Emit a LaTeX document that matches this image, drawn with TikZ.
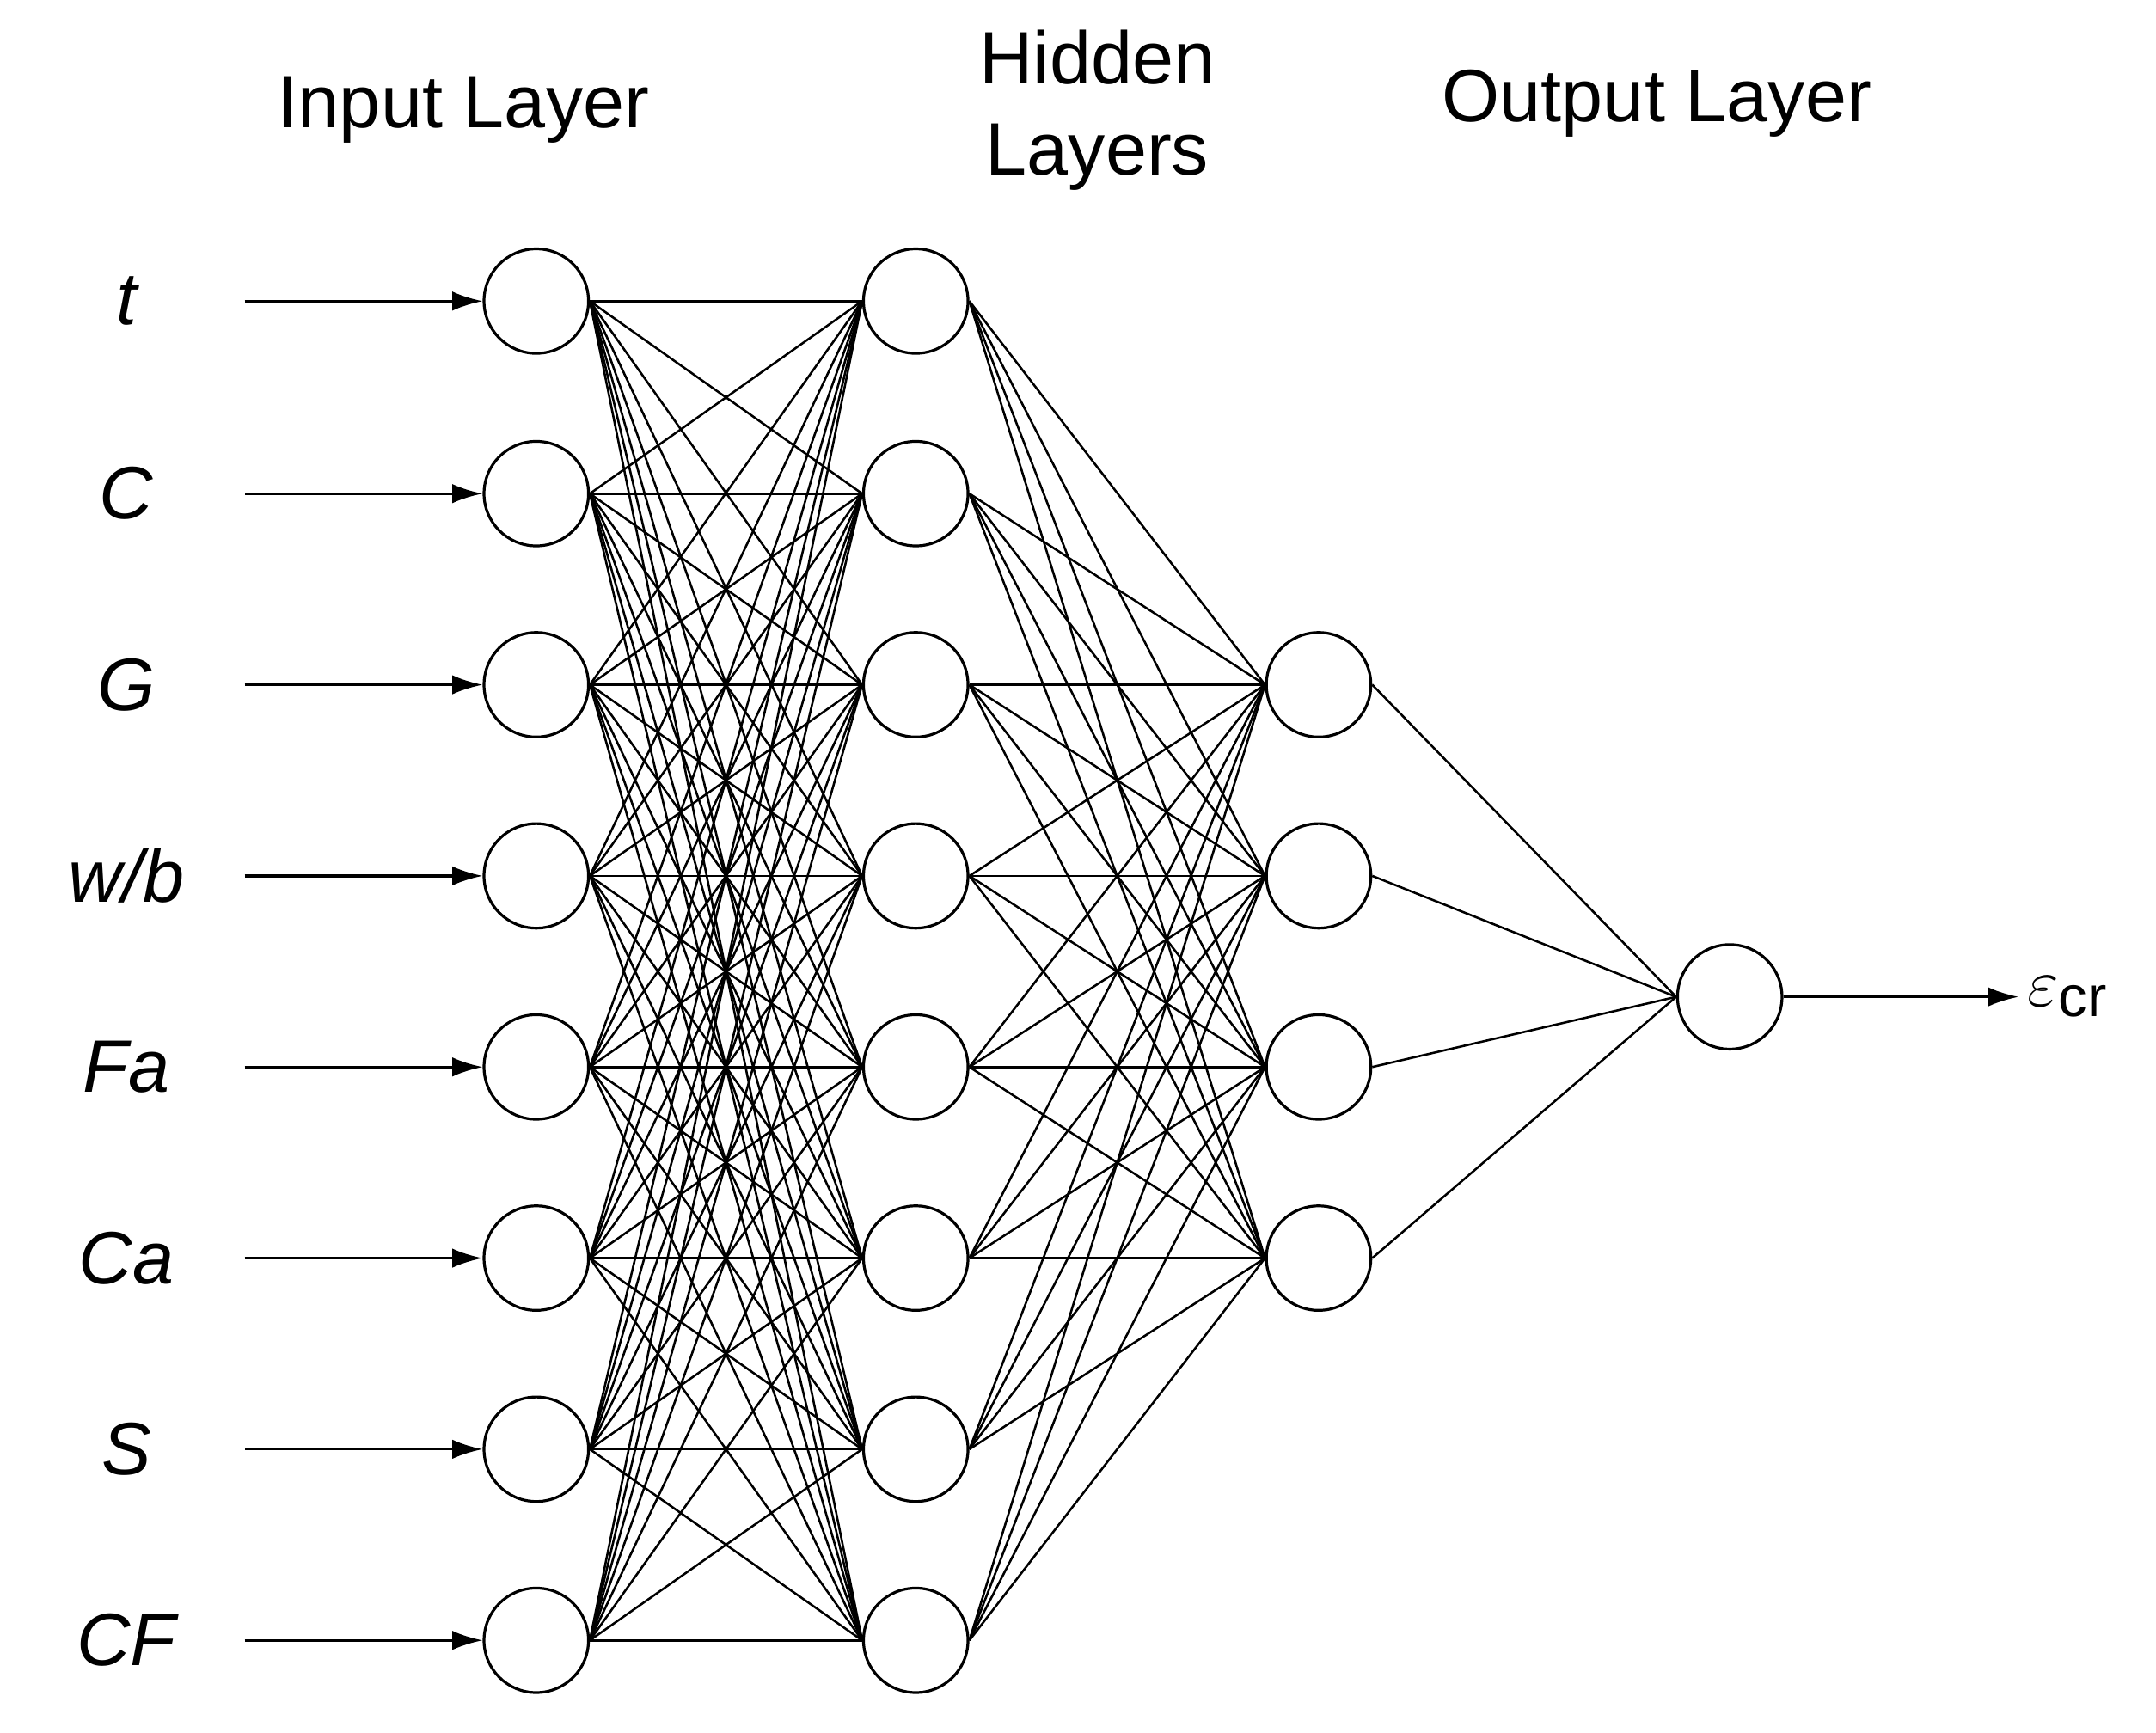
\documentclass[tikz,border=0pt]{standalone}
\usepackage{fontspec}
\setmainfont{Liberation Sans}
\usetikzlibrary{arrows.meta}
\begin{document}
\begin{tikzpicture}[x=0.5pt,y=-0.5pt,
  neu/.style={circle,draw,line width=1pt,minimum size=38pt,inner sep=0pt,fill=white},
  con/.style={line width=0.8pt},
  arr/.style={line width=1pt,-{Latex[length=11pt,width=7pt]}},
  lab/.style={font=\fontsize{27}{30}\selectfont\itshape},
  ttl/.style={font=\fontsize{27}{33}\selectfont,align=center}]
\useasboundingbox (0,0) rectangle (1568,1260);
\node[ttl] (t1) at (337,80) {Input Layer};
\node[ttl] (t2) at (798,80) {Hidden\\Layers};
\node[ttl] (t3) at (1205,75) {Output Layer};
\foreach \y [count=\i] in {219,359,498,637,776,915,1054,1193}{
  \node[neu] (a\i) at (390,\y) {};
  \node[neu] (b\i) at (666,\y) {};
}
\foreach \y [count=\i] in {498,637,776,915}{ \node[neu] (c\i) at (959,\y) {}; }
\node[neu] (o) at (1258,725) {};
\begin{scope}[on background layer/.style={}]
\foreach \i in {1,...,8}{\foreach \j in {1,...,8}{\draw[con] (a\i.east) -- (b\j.west);}}
\foreach \i in {1,...,8}{\foreach \j in {1,...,4}{\draw[con] (b\i.east) -- (c\j.west);}}
\foreach \j in {1,...,4}{\draw[con] (c\j.east) -- (o.west);}
\end{scope}
\foreach \t [count=\i] in {t,C,G,w/b,Fa,Ca,S,CF}{
  \path (a\i) ++(-298,0) node[lab] (l\i) {\t};
  \path (a\i) ++(-212,0) coordinate (s\i);
  \draw[arr] (s\i) -- (a\i.west);
}
\coordinate (e) at (1468,725);
\draw[arr] (o.east) -- (e);
\node[anchor=west,inner sep=2pt] (eps) at (1470,725) {\fontsize{30}{32}\selectfont$\varepsilon$\fontsize{21}{24}\selectfont\raisebox{-4pt}{cr}};
\end{tikzpicture}
\end{document}
